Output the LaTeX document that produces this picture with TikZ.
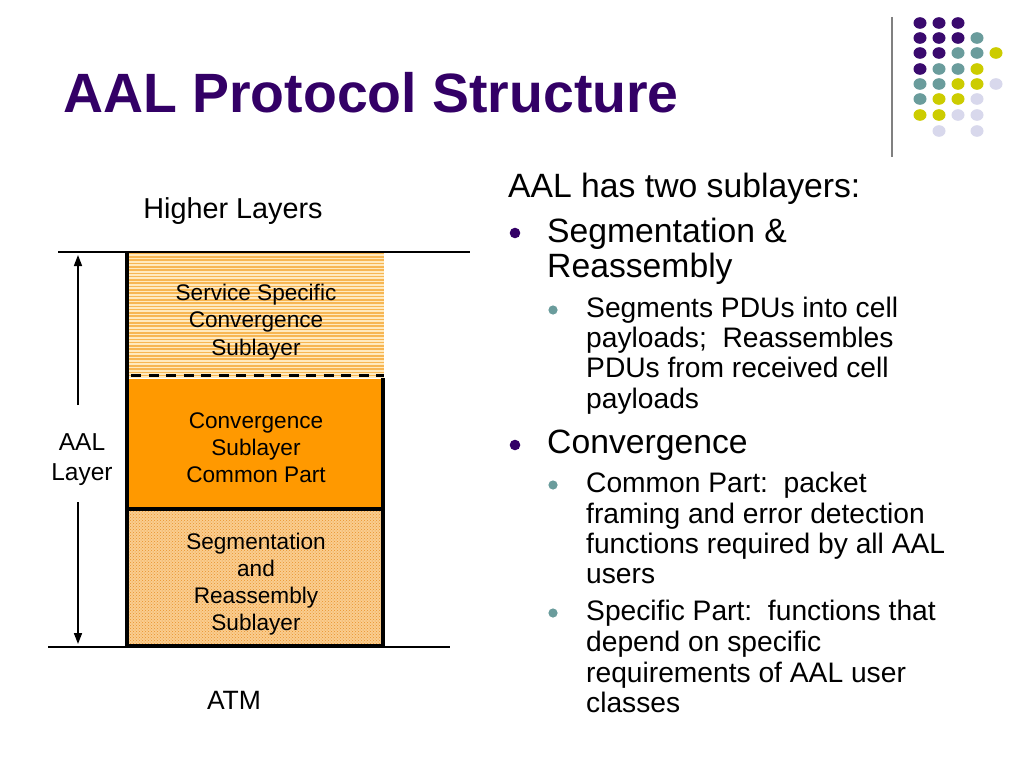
\documentclass[tikz,border=0pt]{standalone}
\usepackage{fontspec}
\setmainfont{Liberation Sans}
\usetikzlibrary{arrows.meta,patterns}
\definecolor{titlepurple}{HTML}{330066}
\definecolor{dotpurple}{HTML}{3A0A6E}
\definecolor{dotteal}{HTML}{6A9C9C}
\definecolor{dotyellow}{HTML}{CCCC00}
\definecolor{dotlav}{HTML}{D8D8EC}
\definecolor{midorange}{HTML}{FF9900}
\definecolor{stripebg}{HTML}{FFE9BE}
\definecolor{stripefg}{HTML}{F7B653}
\definecolor{dotbg}{HTML}{FACD90}
\definecolor{dotfg}{HTML}{E8922A}
\definecolor{rulegray}{HTML}{808080}
\tikzset{
  lone/.style={inner sep=0pt, anchor=base west, font=\fontsize{33.7}{36}\selectfont},
  ltwo/.style={inner sep=0pt, anchor=base west, font=\fontsize{28.2}{30}\selectfont},
  boxtxt/.style={inner sep=0pt, anchor=base, font=\fontsize{22.6}{24}\selectfont},
  sidetxt/.style={inner sep=0pt, anchor=base, font=\fontsize{24.5}{26}\selectfont},
  bulone/.style={fill=titlepurple},
  bultwo/.style={fill=dotteal},
  thinrule/.style={line width=1.3pt, black},
  thickrule/.style={line width=3.2pt, black},
  laybox/.style={draw=black, line width=3.2pt},
  arrowline/.style={line width=1.6pt, -{Triangle[length=11pt,width=8pt]}},
  stripe/.style={line width=1.6pt, stripefg},
}
\begin{document}
\begin{tikzpicture}[x=1pt,y=-1pt]
\useasboundingbox (0,0) rectangle (1024,768);
\fill[white] (0,0) rectangle (1024,768);

% decorative dots
\draw[rulegray, line width=1.5pt] (892,17) -- (892,157);
\foreach \c/\x/\y in {
 dotpurple/920/23, dotpurple/939/23, dotpurple/958/23,
 dotpurple/920/38, dotpurple/939/38, dotpurple/958/38, dotteal/977/38,
 dotpurple/920/53, dotpurple/939/53, dotteal/958/53, dotteal/977/53, dotyellow/996/53,
 dotpurple/920/69, dotteal/939/69, dotteal/958/69, dotyellow/977/69,
 dotteal/920/84, dotteal/939/84, dotyellow/958/84, dotyellow/977/84, dotlav/996/84,
 dotteal/920/99, dotyellow/939/99, dotyellow/958/99, dotlav/977/99,
 dotyellow/920/115, dotyellow/939/115, dotlav/958/115, dotlav/977/115,
 dotlav/939/131, dotlav/977/131}
 \fill[\c] (\x,\y) ellipse [x radius=6.5pt, y radius=5.8pt];

% title
\node[inner sep=0pt, anchor=base west, font=\bfseries\fontsize{55.4}{60}\selectfont, text=titlepurple] (title) at (63,112) {AAL Protocol Structure};

% layer boxes
\fill[stripebg] (127,252) rectangle (384,378);
\begin{scope}
\clip (127,252) rectangle (384,378);
\foreach \y in {253.5,256.8,...,378} \draw[stripe] (127,\y) -- (384,\y);
\end{scope}
\fill[midorange] (127,379) rectangle (384,509);
\fill[dotbg] (127,509) rectangle (384,647);
\fill[pattern=crosshatch dots, pattern color=dotfg] (127,509) rectangle (384,647);

\coordinate (hlA) at (58,252);
\coordinate (hlB) at (470,252);
\coordinate (blA) at (48,647);
\coordinate (blB) at (450,647);
\draw[thinrule] (hlA) -- (hlB);
\draw[thinrule] (blA) -- (blB);

\draw[thickrule] (127,252) -- (127,509);
\draw[thickrule] (383,378) -- (383,509) -- (127,509);
\draw[laybox] (127,509) rectangle (383,646);
\draw[line width=3.2pt, dash pattern=on 10pt off 7.5pt] (131,375.5) -- (384,375.5);

% box texts
\node[boxtxt] (s1) at (256,300) {Service Specific};
\node[boxtxt] (s2) at (256,327) {Convergence};
\node[boxtxt] (s3) at (256,355) {Sublayer};
\node[boxtxt] (m1) at (256,428) {Convergence};
\node[boxtxt] (m2) at (256,455) {Sublayer};
\node[boxtxt] (m3) at (256,482) {Common Part};
\node[boxtxt] (b1) at (256,549) {Segmentation};
\node[boxtxt] (b2) at (256,576) {and};
\node[boxtxt] (b3) at (256,603) {Reassembly};
\node[boxtxt] (b4) at (256,630) {Sublayer};

% side labels
\node[inner sep=0pt, anchor=base, font=\fontsize{28.8}{30}\selectfont] (hl) at (233,218) {Higher Layers};
\node[inner sep=0pt, anchor=base, font=\fontsize{26.5}{28}\selectfont] (atm) at (234,709) {ATM};
\node[sidetxt] (aal1) at (82,450) {AAL};
\node[sidetxt] (aal2) at (82,480) {Layer};

\coordinate (arTopS) at (78,405);
\coordinate (arTopE) at (78,255);
\coordinate (arBotS) at (78,502);
\coordinate (arBotE) at (78,644);
\draw[arrowline] (arTopS) -- (arTopE);
\draw[arrowline] (arBotS) -- (arBotE);

% bullet text
\node[lone] (r0) at (508,197) {AAL has two sublayers:};
\fill[bulone] (515,233) circle [radius=5.3pt];
\node[lone] (r1) at (547,242) {Segmentation \&};
\node[lone] (r2) at (547,277) {Reassembly};
\fill[bultwo] (553,310) circle [radius=4.6pt];
\node[ltwo] (r3) at (586,317) {Segments PDUs into cell};
\node[ltwo] (r4) at (586,347) {payloads;\ \ Reassembles};
\node[ltwo] (r5) at (586,377) {PDUs from received cell};
\node[ltwo] (r6) at (586,408) {payloads};
\fill[bulone] (515,445) circle [radius=5.3pt];
\node[lone] (r7) at (547,453) {Convergence};
\fill[bultwo] (553,485) circle [radius=4.6pt];
\node[ltwo] (r8) at (586,492) {Common Part:\ \ packet};
\node[ltwo] (r9) at (586,523) {framing and error detection};
\node[ltwo] (r10) at (586,553) {functions required by all AAL};
\node[ltwo] (r11) at (586,583) {users};
\fill[bultwo] (553,613) circle [radius=4.6pt];
\node[ltwo] (r12) at (586,620) {Specific Part:\ \ functions that};
\node[ltwo] (r13) at (586,651) {depend on specific};
\node[ltwo] (r14) at (586,682) {requirements of AAL user};
\node[ltwo] (r15) at (586,712) {classes};
\end{tikzpicture}
\end{document}
